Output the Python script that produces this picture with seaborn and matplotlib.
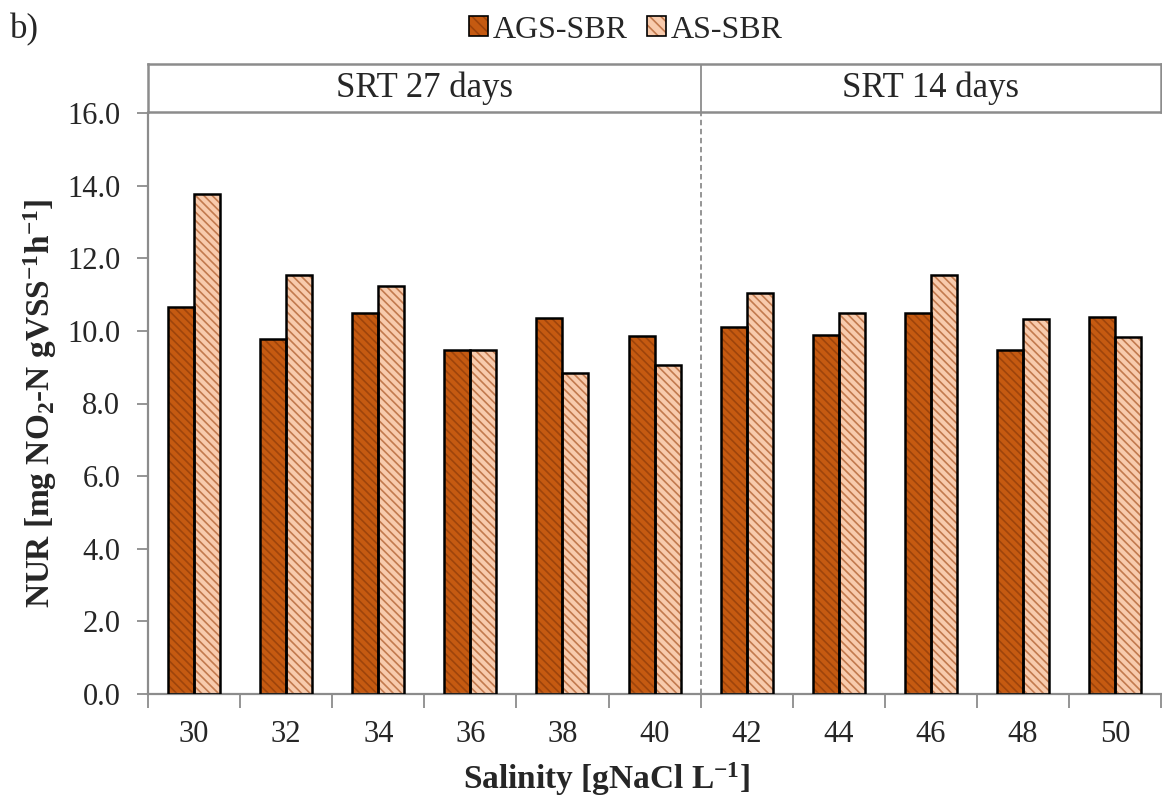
import numpy as np
import pandas as pd
import matplotlib
matplotlib.use("Agg")
import matplotlib.pyplot as plt
from matplotlib.patches import Patch, Rectangle
from matplotlib.legend_handler import HandlerTuple
import seaborn as sns

# dati
salinity = ["30", "32", "34", "36", "38", "40", "42", "44", "46", "48", "50"]
ags_sbr = [10.65, 9.77, 10.48, 9.47, 10.35, 9.87, 10.12, 9.90, 10.50, 9.48, 10.37]
as_sbr = [13.78, 11.53, 11.24, 9.46, 8.83, 9.05, 11.05, 10.48, 11.53, 10.34, 9.83]
reactors = ["AGS-SBR", "AS-SBR"]
srt_labels = ["SRT 27 days", "SRT 14 days"]
yticks = [0, 2, 4, 6, 8, 10, 12, 14, 16]

df = pd.DataFrame({
    "Salinity": salinity * 2,
    "NUR": ags_sbr + as_sbr,
    "Reactor": [reactors[0]] * len(salinity) + [reactors[1]] * len(salinity),
})

sns.set_style("white")
plt.rcParams["font.family"] = ["Liberation Serif", "DejaVu Serif"]
plt.rcParams["mathtext.fontset"] = "custom"
plt.rcParams["mathtext.rm"] = "Liberation Serif"
plt.rcParams["mathtext.bf"] = "Liberation Serif:bold"
plt.rcParams["mathtext.it"] = "Liberation Serif:italic"
plt.rcParams["hatch.linewidth"] = 1.2

fill_colors = {"AGS-SBR": "#C55A11", "AS-SBR": "#F8CBAD"}
hatch_colors = ["#9E440B", "#C27A4E"]
hatch = "\\\\\\\\"
grey = "#8C8C8C"

fig = plt.figure(figsize=(11.62, 8.07), dpi=100)
ax = fig.add_axes([0.1274, 0.140, 0.8718, 0.720])
hax = fig.add_axes([0.1274, 0.8612, 0.8718, 0.0595])

sns.barplot(data=df, x="Salinity", y="NUR", hue="Reactor", order=salinity,
            hue_order=reactors, palette=fill_colors, width=0.565, gap=0,
            linewidth=0, saturation=1, legend=False, ax=ax)

# tratteggio + bordo nero (colori diversi)
for i, cont in enumerate(ax.containers):
    for bar in cont:
        bar.set_hatch(hatch)
        bar.set_edgecolor(hatch_colors[i])
        bar.set_linewidth(0)
        ax.add_patch(Rectangle((bar.get_x(), bar.get_y()), bar.get_width(),
                               bar.get_height(), fill=False, edgecolor="black",
                               linewidth=1.8, zorder=3))

ax.set_xlim(-0.5, len(salinity) - 0.5)
ax.set_ylim(0, 16)
ax.set_yticks(yticks)
ax.set_yticklabels([f"{v:.1f}" for v in yticks])
ax.set_xticks(np.arange(-0.5, len(salinity), 1.0), minor=True)
ax.tick_params(axis="x", which="major", length=0, pad=19, labelsize=22)
ax.tick_params(axis="x", which="minor", length=10, width=1.3, color=grey, direction="out", bottom=True)
ax.tick_params(axis="y", length=8, width=1.3, color=grey, direction="out", left=True, pad=12, labelsize=22)
for s in ["top", "right"]:
    ax.spines[s].set_visible(False)
for s in ["left", "bottom"]:
    ax.spines[s].set_color(grey)
    ax.spines[s].set_linewidth(1.6)
ax.axvline(5.5, color=grey, linestyle=(0, (3, 2)), linewidth=1.3, zorder=1)

ax.set_xlabel(r"Salinity [gNaCl L$^\mathbf{-1}$]", fontsize=24, fontweight="bold")
ax.xaxis.set_label_coords(0.4526, -0.115)
ax.set_ylabel(r"NUR [mg NO$_\mathbf{2}$-N gVSS$^\mathbf{-1}$h$^\mathbf{-1}$]", fontsize=24, fontweight="bold")
ax.yaxis.set_label_coords(-0.088, 0.5)

# riquadro SRT
hax.set_xlim(-0.5, len(salinity) - 0.5)
hax.set_ylim(0, 1)
hax.set_xticks([])
hax.set_yticks([])
for s in hax.spines.values():
    s.set_color(grey)
    s.set_linewidth(1.8)
hax.axvline(5.5, color=grey, linewidth=1.3)
hax.text(2.5, 0.5, srt_labels[0], ha="center", va="center", fontsize=25)
hax.text(8.0, 0.5, srt_labels[1], ha="center", va="center", fontsize=25)

# legenda
handles = []
for i, r in enumerate(reactors):
    p1 = Patch(facecolor=fill_colors[r], hatch="\\\\\\", edgecolor=hatch_colors[i], linewidth=0)
    p2 = Patch(facecolor="none", edgecolor="black", linewidth=1.2)
    handles.append((p1, p2))
fig.legend(handles, reactors, handler_map={tuple: HandlerTuple(ndivide=1, pad=0)},
           loc="center", bbox_to_anchor=(626 / 1162, 1 - 30 / 807), ncol=2,
           frameon=False, fontsize=23, handlelength=0.6, handleheight=0.6,
           handletextpad=0.15, columnspacing=0.6, borderpad=0)

fig.text(10 / 1162, 1 - 30 / 807, "b)", fontsize=25, ha="left", va="center")

fig.savefig("out.png", dpi=100)
